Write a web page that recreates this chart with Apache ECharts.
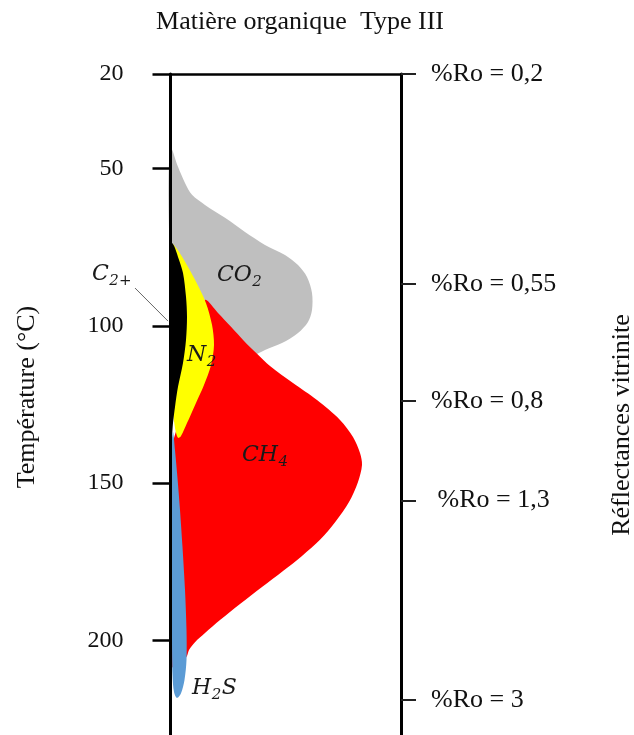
<!DOCTYPE html>
<html><head><meta charset="utf-8">
<script src="https://cdn.jsdelivr.net/npm/echarts@6/dist/echarts.min.js"></script>
<style>html,body{margin:0;padding:0;background:#fff}#c{width:634px;height:735px}</style>
</head><body><div id="c"></div>
<script>
// Temperature axis (°C) ticks
const tempTicks = [20, 50, 100, 150, 200];
// Vitrinite reflectance ticks placed at equivalent temperatures
const roTickTemps = [20, 86.7, 123.9, 155.5, 218.9];
const roTickLabels = ['%Ro = 0,2', '%Ro = 0,55', '%Ro = 0,8', ' %Ro = 1,3', '%Ro = 3'];

// Outlines of each gas generation envelope: [relative amount, temperature °C]
const co2Outline = [[0.5,43.5],[7.5,49.5],[14.5,54.6],[21.5,58.4],[34.5,61.6],[54.5,65.7],[74.5,70.2],[94.5,74.3],[114.5,77.5],[127.5,80.7],[136.5,84.5],[141.5,89.6],[141.5,95.0],[137.5,98.8],[127.5,102.3],[111.5,105.5],[94.5,107.7],[84.5,109.3],[60,112.5],[30,112.5],[8,111.5],[1,108],[0.5,90],[-1,75],[-2,60.0],[-1.5,48]];
const ch4Outline = [[34.5,91.8],[47.5,95.9],[60.5,100.3],[73.5,104.8],[86.5,108.9],[99.5,112.8],[122.5,118.2],[146.5,123.6],[169.5,129.9],[182.5,135.3],[189.5,140.4],[191.5,144.2],[187.5,149.6],[178.5,156.0],[165.5,162.0],[149.5,168.0],[131.5,173.1],[112.5,177.9],[91.5,183.0],[69.5,188.4],[49.5,193.5],[34.5,197.6],[24.5,200.5],[18.5,203.0],[16.5,204.9],[12.5,206.5],[1.5,208.4],[1,200],[1,170],[1,140],[7.5,131.5],[17.5,123.6],[24.5,114.0],[29.5,101.3]];
const n2Outline = [[1.5,74.0],[6.5,75.6],[13.5,79.1],[24.5,85.4],[35.5,92.8],[41.5,99.7],[43.5,106.1],[40.5,112.5],[33.5,118.8],[24.5,125.2],[16.5,130.9],[10.5,135.0],[7.5,135.6],[4.5,132.5],[1.5,123.6],[1,100],[0.5,79.1]];
const c2Outline = [[0.5,73.4],[3.5,74.6],[7.5,78.1],[12.5,83.2],[15.5,90.8],[16.5,97.2],[15.5,104.5],[12.5,111.8],[7.5,119.4],[4.5,125.8],[2.5,130.9],[1.5,134.7],[0.5,130],[0.5,100],[0.5,78]];
const h2sOutline = [[2.5,133.7],[4.5,139.5],[7,148.4],[9.5,158.5],[12,170.3],[14.5,183.9],[16,196.6],[16,206.2],[14,212.5],[10.5,216.7],[6.5,218.2],[3.5,216.3],[2,210.9],[1.5,199.8],[1,174.4],[0.5,149.0],[1,137.9]];

// Gas labels: position [relative amount, temperature], main text, subscript, trailing text
const gasLabelPos = [[46.5,83.9],[16.5,109.3],[71.5,141.0],[21.5,215.2],[-78.5,83.7]];
const gasLabelMain = ['CO','N','CH','H','C'];
const gasLabelSub = ['2','2','4','2','2+'];
const gasLabelTail = ['','','','S',''];
// Leader line for C2+
const c2Leader = [[-35.5,88.0],[-2.5,98.5]];

const FONT = '"Liberation Serif", "Times New Roman", serif';
const MATH_FONT = '"DejaVu Serif", serif';
const measureCtx = document.createElement('canvas').getContext('2d');
function measure(text, font){ measureCtx.font = font; return measureCtx.measureText(text).width; }

function shapeSeries(name, outline, color){
  return {
    type:'custom', name, data: outline, clip:false, silent:true, z:2,
    renderItem: (params, api) => {
      if (params.dataIndex !== 0) return null;
      return {type:'polygon', shape:{points: outline.map(p => api.coord(p)), smooth:0.3}, style:{fill:color}};
    }
  };
}

const chart = echarts.init(document.getElementById('c'), null, {renderer:'canvas'});
chart.setOption({
  animation:false,
  backgroundColor:'#fff',
  grid:{left:170.5, right:233, top:74, bottom:0, containLabel:false},
  xAxis:{type:'value', min:0, max:230.5, position:'top', z:5,
    axisLine:{show:true, lineStyle:{color:'#000', width:2.5}},
    axisTick:{show:false}, axisLabel:{show:false}, splitLine:{show:false}},
  yAxis:[
    {type:'value', inverse:true, min:20, max:230, position:'left', z:5,
     axisLine:{show:true, lineStyle:{color:'#000', width:3}},
     axisTick:{show:true, length:18, customValues:tempTicks, lineStyle:{color:'#000', width:2.5}},
     axisLabel:{show:true, customValues:tempTicks, margin:47, fontSize:24, fontFamily:FONT, color:'#111'},
     splitLine:{show:false}},
    {type:'value', inverse:true, min:20, max:230, position:'right', z:5,
     axisLine:{show:true, lineStyle:{color:'#000', width:3}},
     axisTick:{show:true, length:15, customValues:roTickTemps, lineStyle:{color:'#222', width:2}},
     axisLabel:{show:true, customValues:roTickTemps, margin:30, fontSize:26, fontFamily:FONT, color:'#111',
       formatter:(v) => {
         let best = 0;
         roTickTemps.forEach((t,i) => { if (Math.abs(t - v) < Math.abs(roTickTemps[best] - v)) best = i; });
         return roTickLabels[best];
       }},
     splitLine:{show:false}}
  ],
  graphic:[
    {type:'text', x:300, y:22.5, style:{text:'Matière organique  Type III', font:'26px ' + FONT, fill:'#111', align:'center', verticalAlign:'middle'}},
    {type:'text', x:27, y:397, rotation:Math.PI/2, style:{text:'Température (°C)', font:'26px ' + FONT, fill:'#111', align:'center', verticalAlign:'middle'}},
    {type:'text', x:622, y:425, rotation:Math.PI/2, style:{text:'Réflectances vitrinite', font:'26px ' + FONT, fill:'#111', align:'center', verticalAlign:'middle'}}
  ],
  series:[
    shapeSeries('CO2', co2Outline, '#bfbfbf'),
    shapeSeries('CH4', ch4Outline, '#ff0000'),
    shapeSeries('N2', n2Outline, '#ffff00'),
    shapeSeries('C2+', c2Outline, '#000000'),
    shapeSeries('H2S', h2sOutline, '#5b9bd5'),
    {type:'custom', data:c2Leader, clip:false, silent:true, z:3,
     renderItem:(params, api) => {
       if (params.dataIndex !== 0) return null;
       const a = api.coord(c2Leader[0]), b = api.coord(c2Leader[1]);
       return {type:'line', shape:{x1:a[0], y1:a[1], x2:b[0], y2:b[1]}, style:{stroke:'#666', lineWidth:1}};
     }},
    {type:'custom', data:gasLabelPos, clip:false, silent:true, z:4,
     renderItem:(params, api) => {
       const i = params.dataIndex;
       const p = api.coord([api.value(0), api.value(1)]);
       const mainFont = 'italic 22px ' + MATH_FONT;
       const subFont = 'italic 15px ' + MATH_FONT;
       const w1 = measure(gasLabelMain[i], mainFont);
       const w2 = measure(gasLabelSub[i], subFont);
       const mk = (text, x, y, font) => ({type:'text', x, y, style:{text, font, fill:'#1a1a1a', align:'left', verticalAlign:'middle'}});
       const children = [mk(gasLabelMain[i], p[0], p[1], mainFont), mk(gasLabelSub[i], p[0] + w1 + 0.5, p[1] + 7, subFont)];
       if (gasLabelTail[i]) children.push(mk(gasLabelTail[i], p[0] + w1 + w2 + 1, p[1], mainFont));
       return {type:'group', children};
     }}
  ]
});
</script></body></html>
